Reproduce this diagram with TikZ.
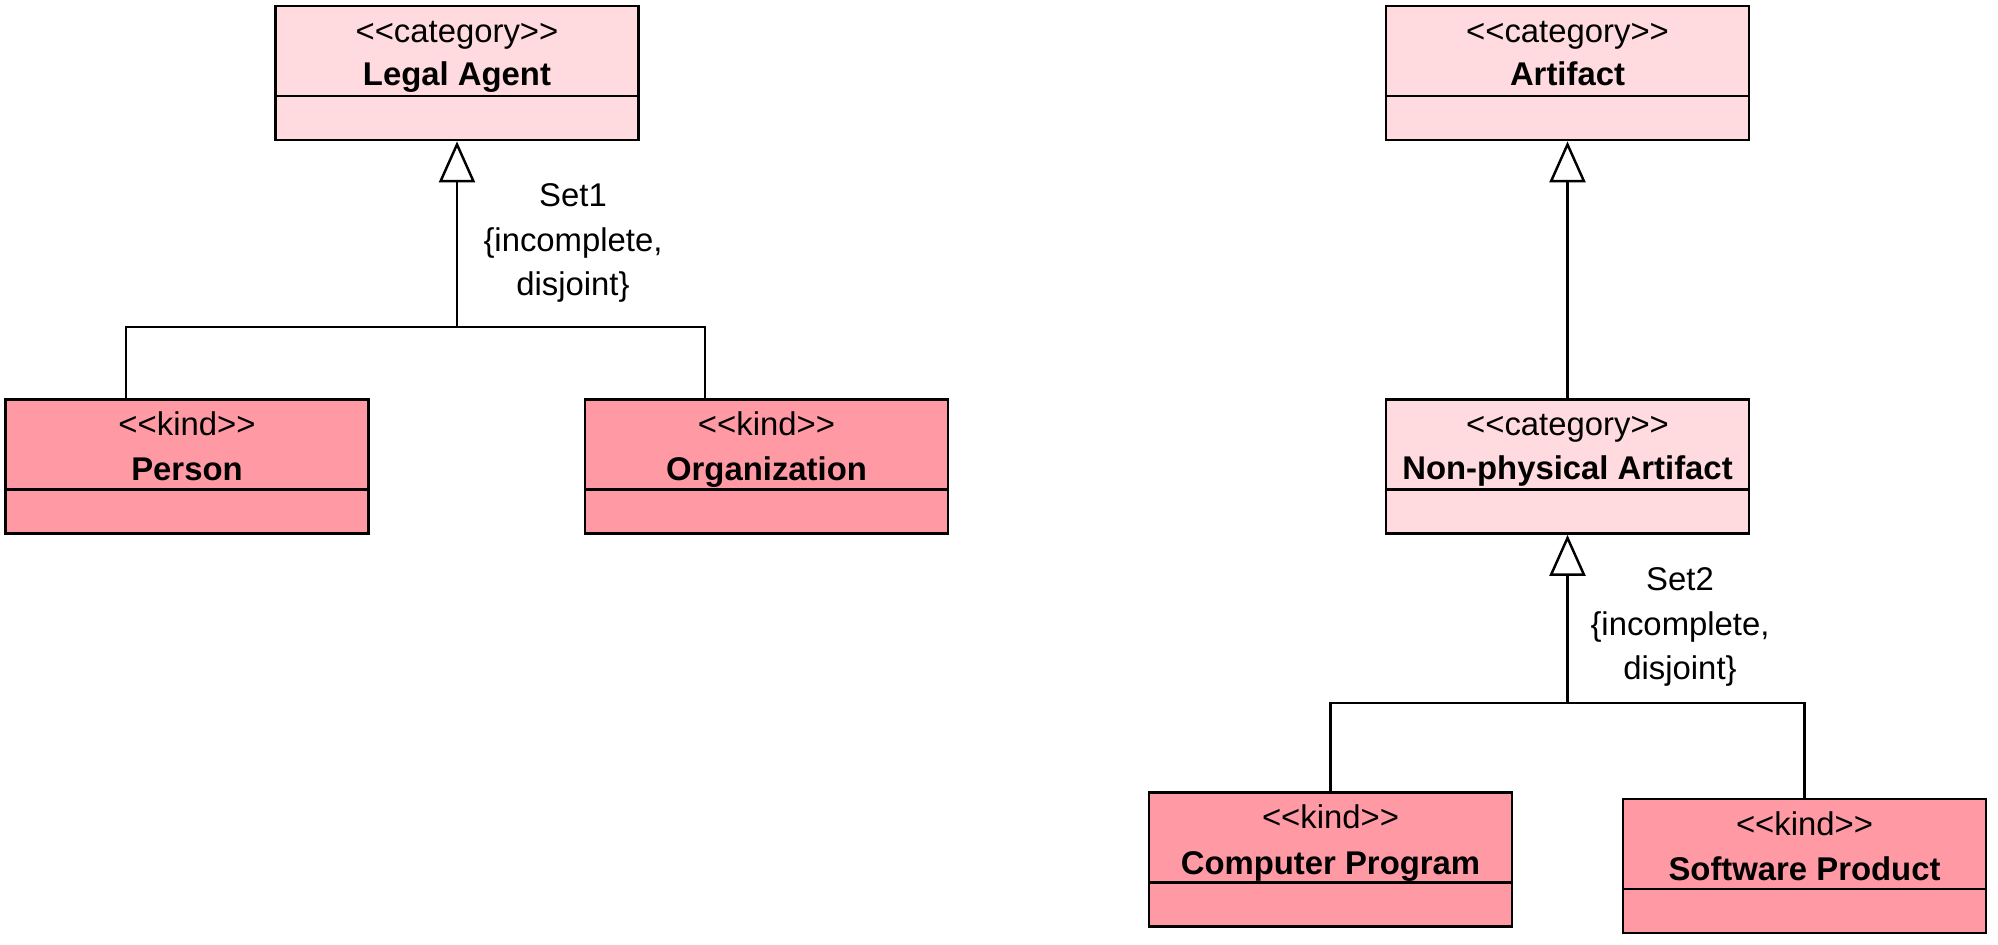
\documentclass[tikz,border=0pt]{standalone}
\usepackage{fontspec}
\setmainfont{Liberation Sans}
\usetikzlibrary{shapes,arrows.meta}

\definecolor{catpink}{RGB}{255,218,223}
\definecolor{kindpink}{RGB}{255,154,164}

\tikzset{
  classbox/.style={draw=black,line width=1.6pt,minimum width=7.26cm,minimum height=2.68cm,inner sep=0pt},
  catbox/.style={classbox,fill=catpink},
  kindbox/.style={classbox,fill=kindpink},
  divider/.style={black,line width=1.6pt},
  stereo/.style={anchor=base,inner sep=0pt,font=\fontsize{18.7}{22}\selectfont},
  title/.style={anchor=base,inner sep=0pt,font=\fontsize{18.7}{22}\selectfont\bfseries},
  genset/.style={align=center,inner sep=0pt,font=\fontsize{18.7}{25.5}\selectfont},
  gen/.style={black,line width=1.4pt,-{Triangle[open,width=0.72cm,length=0.82cm,fill=white]}},
  link/.style={black,line width=1.4pt}
}

\begin{document}
\begin{tikzpicture}[x=0.02cm,y=-0.02cm]
\useasboundingbox (0,0) rectangle (1998,945);

% left tree
\node[catbox] (legal) at (457,73) {};
\draw[divider] ([yshift=-0.46cm]legal.west) -- ([yshift=-0.46cm]legal.east);
\node[stereo] (legal-st) at ([yshift=0.62cm]legal.center) {<{}<category>{}>};
\node[title] (legal-nm) at ([yshift=-0.26cm]legal.center) {Legal Agent};

\node[kindbox] (person) at (187,466.5) {};
\draw[divider] ([yshift=-0.46cm]person.west) -- ([yshift=-0.46cm]person.east);
\node[stereo] (person-st) at ([yshift=0.62cm]person.center) {<{}<kind>{}>};
\node[title] (person-nm) at ([yshift=-0.29cm]person.center) {Person};

\node[kindbox] (org) at (766.5,466.5) {};
\draw[divider] ([yshift=-0.46cm]org.west) -- ([yshift=-0.46cm]org.east);
\node[stereo] (org-st) at ([yshift=0.62cm]org.center) {<{}<kind>{}>};
\node[title] (org-nm) at ([yshift=-0.29cm]org.center) {Organization};

\coordinate (set1) at (legal.south |- 0,327);
\coordinate (set1-l) at (126,327);
\coordinate (set1-r) at (705,327);
\draw[link] (set1-l |- person.north) -- (set1-l) -- (set1-r) -- (set1-r |- org.north);
\draw[gen] (set1) -- (legal.south);
\node[genset] (set1-lbl) at (573,243) {Set1\\\{incomplete,\\disjoint\}};

% right tree
\node[catbox] (artifact) at (1567.5,73) {};
\draw[divider] ([yshift=-0.46cm]artifact.west) -- ([yshift=-0.46cm]artifact.east);
\node[stereo] (artifact-st) at ([yshift=0.62cm]artifact.center) {<{}<category>{}>};
\node[title] (artifact-nm) at ([yshift=-0.26cm]artifact.center) {Artifact};

\node[catbox] (nonphys) at (1567.5,466.5) {};
\draw[divider] ([yshift=-0.46cm]nonphys.west) -- ([yshift=-0.46cm]nonphys.east);
\node[stereo] (nonphys-st) at ([yshift=0.62cm]nonphys.center) {<{}<category>{}>};
\node[title] (nonphys-nm) at ([yshift=-0.26cm]nonphys.center) {Non-physical Artifact};

\draw[gen] (nonphys.north) -- (artifact.south);

\node[kindbox] (program) at (1330.5,859.5) {};
\draw[divider] ([yshift=-0.46cm]program.west) -- ([yshift=-0.46cm]program.east);
\node[stereo] (program-st) at ([yshift=0.62cm]program.center) {<{}<kind>{}>};
\node[title] (program-nm) at ([yshift=-0.29cm]program.center) {Computer Program};

\node[kindbox] (product) at (1804.5,866) {};
\draw[divider] ([yshift=-0.46cm]product.west) -- ([yshift=-0.46cm]product.east);
\node[stereo] (product-st) at ([yshift=0.62cm]product.center) {<{}<kind>{}>};
\node[title] (product-nm) at ([yshift=-0.29cm]product.center) {Software Product};

\coordinate (set2) at (nonphys.south |- 0,703);
\draw[link] (program.north) |- (set2) -| (product.north);
\draw[gen] (set2) -- (nonphys.south);
\node[genset] (set2-lbl) at (1680,627) {Set2\\\{incomplete,\\disjoint\}};
\end{tikzpicture}
\end{document}
